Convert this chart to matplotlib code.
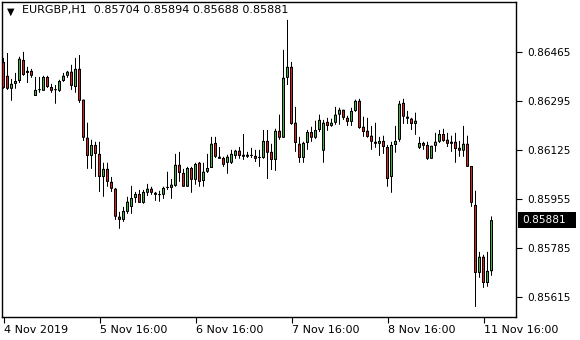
import numpy as np
import matplotlib.pyplot as plt
from matplotlib.patches import Rectangle

# EURGBP H1 candles (one per hour, oldest first)
opens = [0.86430, 0.86382, 0.86337, 0.86354, 0.86364, 0.86437, 0.86392, 0.86399, 0.86312, 0.86333,
         0.86330, 0.86378, 0.86343, 0.86333, 0.86330, 0.86364, 0.86382, 0.86396, 0.86343, 0.86406,
         0.86299, 0.86167, 0.86104, 0.86142, 0.86111, 0.86031, 0.86059, 0.86014, 0.85990, 0.85893,
         0.85882, 0.85910, 0.85927, 0.85958, 0.85972, 0.85941, 0.85976, 0.85990, 0.85976, 0.85969,
         0.85969, 0.85993, 0.85993, 0.86000, 0.86073, 0.86045, 0.85997, 0.86062, 0.86021, 0.86080,
         0.86017, 0.86049, 0.86062, 0.86149, 0.86101, 0.86097, 0.86080, 0.86080, 0.86104, 0.86122,
         0.86108, 0.86101, 0.86104, 0.86104, 0.86097, 0.86097, 0.86156, 0.86118, 0.86090, 0.86191,
         0.86167, 0.86375, 0.86413, 0.86219, 0.86146, 0.86097, 0.86149, 0.86187, 0.86167, 0.86194,
         0.86122, 0.86222, 0.86208, 0.86219, 0.86247, 0.86264, 0.86236, 0.86222, 0.86260, 0.86295,
         0.86205, 0.86191, 0.86174, 0.86153, 0.86146, 0.86156, 0.86135, 0.86031, 0.86142, 0.86160,
         0.86288, 0.86240, 0.86233, 0.86215, 0.86132, 0.86149, 0.86142, 0.86094, 0.86139, 0.86153,
         0.86180, 0.86160, 0.86146, 0.86153, 0.86132, 0.86122, 0.86146, 0.86069, 0.85934, 0.85698,
         0.85754, 0.85663, 0.85704]
highs = [0.86444, 0.86461, 0.86371, 0.86392, 0.86448, 0.86465, 0.86413, 0.86406, 0.86378, 0.86378,
         0.86382, 0.86382, 0.86354, 0.86350, 0.86368, 0.86392, 0.86399, 0.86420, 0.86444, 0.86454,
         0.86299, 0.86219, 0.86160, 0.86153, 0.86153, 0.86080, 0.86080, 0.86031, 0.85993, 0.85910,
         0.85927, 0.85962, 0.86000, 0.85979, 0.85986, 0.85986, 0.86007, 0.85997, 0.85979, 0.85983,
         0.85997, 0.86049, 0.86024, 0.86111, 0.86118, 0.86059, 0.86066, 0.86066, 0.86080, 0.86083,
         0.86080, 0.86111, 0.86170, 0.86170, 0.86135, 0.86101, 0.86108, 0.86125, 0.86125, 0.86135,
         0.86180, 0.86118, 0.86132, 0.86125, 0.86125, 0.86194, 0.86194, 0.86146, 0.86198, 0.86247,
         0.86472, 0.86576, 0.86430, 0.86274, 0.86170, 0.86153, 0.86194, 0.86205, 0.86226, 0.86247,
         0.86229, 0.86236, 0.86233, 0.86274, 0.86271, 0.86264, 0.86243, 0.86271, 0.86299, 0.86302,
         0.86240, 0.86236, 0.86208, 0.86219, 0.86170, 0.86174, 0.86142, 0.86153, 0.86208, 0.86295,
         0.86302, 0.86260, 0.86236, 0.86254, 0.86170, 0.86153, 0.86153, 0.86139, 0.86184, 0.86194,
         0.86198, 0.86184, 0.86174, 0.86184, 0.86156, 0.86208, 0.86174, 0.86069, 0.85983, 0.85771,
         0.85761, 0.85771, 0.85894]
lows = [0.86337, 0.86333, 0.86295, 0.86337, 0.86357, 0.86382, 0.86357, 0.86375, 0.86312, 0.86323,
        0.86330, 0.86340, 0.86323, 0.86285, 0.86326, 0.86361, 0.86375, 0.86333, 0.86323, 0.86288,
        0.86156, 0.86059, 0.86059, 0.86031, 0.85979, 0.85962, 0.85997, 0.85979, 0.85882, 0.85851,
        0.85875, 0.85903, 0.85903, 0.85941, 0.85941, 0.85938, 0.85965, 0.85969, 0.85948, 0.85945,
        0.85955, 0.85986, 0.85955, 0.85997, 0.86014, 0.85997, 0.85997, 0.85976, 0.86004, 0.85997,
        0.85997, 0.86045, 0.86062, 0.86097, 0.86094, 0.86066, 0.86042, 0.86076, 0.86094, 0.86094,
        0.86090, 0.86097, 0.86097, 0.86083, 0.86066, 0.86094, 0.86024, 0.86055, 0.86052, 0.86160,
        0.86167, 0.86350, 0.86212, 0.86118, 0.86080, 0.86080, 0.86125, 0.86153, 0.86163, 0.86187,
        0.86080, 0.86191, 0.86205, 0.86212, 0.86212, 0.86229, 0.86208, 0.86208, 0.86257, 0.86198,
        0.86170, 0.86167, 0.86125, 0.86132, 0.86104, 0.86111, 0.85997, 0.85976, 0.86115, 0.86153,
        0.86215, 0.86215, 0.86194, 0.86177, 0.86128, 0.86125, 0.86090, 0.86094, 0.86118, 0.86149,
        0.86153, 0.86135, 0.86118, 0.86080, 0.86101, 0.86101, 0.86066, 0.85927, 0.85580, 0.85681,
        0.85646, 0.85650, 0.85688]
closes = [0.86340, 0.86337, 0.86354, 0.86364, 0.86441, 0.86385, 0.86399, 0.86382, 0.86333, 0.86332,
          0.86378, 0.86343, 0.86330, 0.86332, 0.86364, 0.86382, 0.86396, 0.86347, 0.86406, 0.86295,
          0.86167, 0.86104, 0.86142, 0.86111, 0.86031, 0.86059, 0.86014, 0.85990, 0.85893, 0.85882,
          0.85913, 0.85945, 0.85958, 0.85972, 0.85941, 0.85979, 0.85990, 0.85976, 0.85969, 0.85968,
          0.85993, 0.85994, 0.86004, 0.86073, 0.86045, 0.85997, 0.86062, 0.86021, 0.86076, 0.86014,
          0.86049, 0.86062, 0.86146, 0.86101, 0.86094, 0.86073, 0.86101, 0.86111, 0.86122, 0.86104,
          0.86101, 0.86108, 0.86105, 0.86094, 0.86098, 0.86156, 0.86115, 0.86090, 0.86191, 0.86167,
          0.86375, 0.86413, 0.86215, 0.86149, 0.86097, 0.86149, 0.86187, 0.86167, 0.86194, 0.86229,
          0.86219, 0.86208, 0.86219, 0.86247, 0.86264, 0.86236, 0.86222, 0.86260, 0.86295, 0.86201,
          0.86187, 0.86170, 0.86153, 0.86146, 0.86156, 0.86135, 0.86024, 0.86142, 0.86156, 0.86285,
          0.86240, 0.86233, 0.86215, 0.86226, 0.86149, 0.86139, 0.86094, 0.86139, 0.86153, 0.86180,
          0.86156, 0.86146, 0.86153, 0.86128, 0.86122, 0.86146, 0.86066, 0.85941, 0.85698, 0.85754,
          0.85663, 0.85705, 0.85881]

xtick_bars = [0, 24, 48, 72, 96, 120]
xtick_labels = ['4 Nov 2019', '5 Nov 16:00', '6 Nov 16:00', '7 Nov 16:00', '8 Nov 16:00', '11 Nov 16:00']
ytick_vals = [0.86465, 0.86295, 0.86125, 0.85955, 0.85785, 0.85615]

up_color = '#3cb43c'
down_color = '#dc1e1e'

o = np.array(opens)
h = np.array(highs)
l = np.array(lows)
c = np.array(closes)
x = np.arange(len(o))

fig = plt.figure(figsize=(5.8, 3.4), dpi=100)
ax = fig.add_axes([2/580, 23/340, 514/580, 315/340])
ylo, yhi = 0.85545, 0.86638
ax.set_xlim(-0.375, 128.125)   # 4 px per bar
ax.set_ylim(ylo, yhi)
px = (yhi - ylo) / 315.0        # price per pixel

# wicks
ax.vlines(x, l, h, color='black', linewidth=0.72, zorder=1, snap=False)

# bodies: black frame, coloured core
top = np.maximum(o, c)
bot = np.minimum(o, c)
frame_h = np.maximum(top - bot, px)
ax.bar(x, frame_h, bottom=bot, width=0.75, color='black', linewidth=0, zorder=2, snap=False)
colors = [up_color if cc >= oo else down_color for oo, cc in zip(o, c)]
core_h = np.clip(top - bot - 2 * px, 0, None)
ax.bar(x, core_h, bottom=bot + px, width=0.25, color=colors, linewidth=0, zorder=3, snap=False)

# price axis on the right
ax.yaxis.tick_right()
ax.set_yticks(ytick_vals)
ax.set_yticklabels(['{:.5f}'.format(v) for v in ytick_vals])
ax.tick_params(axis='y', direction='out', length=4, width=0.8, pad=4, labelsize=7.6)

ax.set_xticks(xtick_bars)
ax.set_xticklabels(xtick_labels, ha='left')
ax.tick_params(axis='x', direction='out', length=4, width=0.8, pad=2, labelsize=8)

for sp in ax.spines.values():
    sp.set_linewidth(1.0)

# last price tag
last = c[-1]
tag_h = 0.00055
ax.add_patch(Rectangle((1.0035, last - tag_h / 2), 0.114, tag_h,
                       transform=ax.get_yaxis_transform(), facecolor='black',
                       edgecolor='none', clip_on=False, zorder=5))
ax.text(1.0115, last, '{:.5f}'.format(last), transform=ax.get_yaxis_transform(),
        ha='left', va='center', fontsize=7.6, color='white', zorder=6)

# header
ax.text(0.009, 0.984, '\u25bc', transform=ax.transAxes, ha='left', va='top', fontsize=7)
ax.text(0.039, 0.99, 'EURGBP,H1  {:.5f} {:.5f} {:.5f} {:.5f}'.format(o[-1], h[-1], l[-1], c[-1]),
        transform=ax.transAxes, ha='left', va='top', fontsize=8)

fig.savefig('out.png', dpi=100)
